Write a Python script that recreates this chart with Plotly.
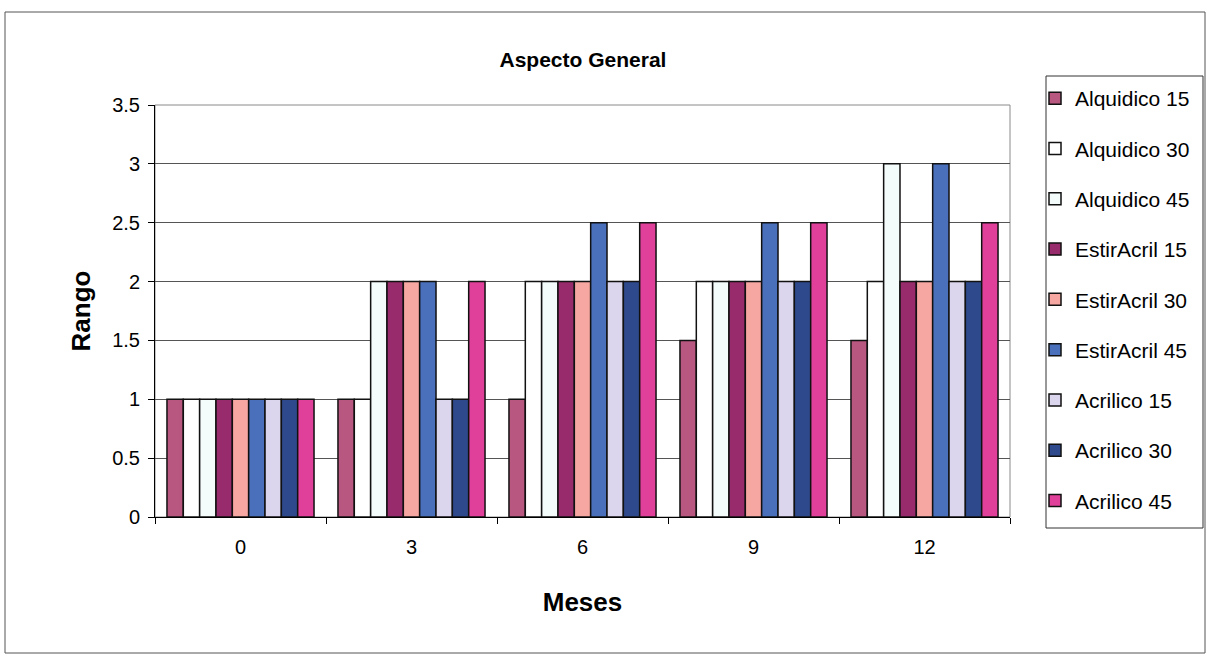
import plotly.graph_objects as go

# Months of exposure (category axis)
meses = ["0", "3", "6", "9", "12"]

# Rango values per paint system and thickness
alquidico_15 = [1, 1, 1, 1.5, 1.5]
alquidico_30 = [1, 1, 2, 2, 2]
alquidico_45 = [1, 2, 2, 2, 3]
estiracril_15 = [1, 2, 2, 2, 2]
estiracril_30 = [1, 2, 2, 2, 2]
estiracril_45 = [1, 2, 2.5, 2.5, 3]
acrilico_15 = [1, 1, 2, 2, 2]
acrilico_30 = [1, 1, 2, 2, 2]
acrilico_45 = [1, 2, 2.5, 2.5, 2.5]

series = [
    ("Alquidico 15", alquidico_15, "#B8577F"),
    ("Alquidico 30", alquidico_30, "#FFFFFF"),
    ("Alquidico 45", alquidico_45, "#F4FBFB"),
    ("EstirAcril 15", estiracril_15, "#982B6B"),
    ("EstirAcril 30", estiracril_30, "#F7A7A2"),
    ("EstirAcril 45", estiracril_45, "#4A70BC"),
    ("Acrilico 15", acrilico_15, "#DCD5EE"),
    ("Acrilico 30", acrilico_30, "#2F4A8C"),
    ("Acrilico 45", acrilico_45, "#E0409A"),
]

FONT = "Liberation Sans, Arial, sans-serif"

# pixel geometry of the plot area
L, R, T, B = 155, 1010, 105, 517
PW, PH = R - L, B - T


def px_x(x):
    return (x - L) / PW


def px_y(y):
    return (B - y) / PH


fig = go.Figure()
for name, vals, color in series:
    fig.add_trace(go.Bar(
        x=meses, y=vals, name=name, legendgroup=name,
        marker=dict(color=color, line=dict(color="#111111", width=1.5)),
    ))

fig.update_layout(
    width=1207, height=667,
    margin=dict(l=L, r=1207 - R, t=T, b=667 - B),
    paper_bgcolor="white", plot_bgcolor="white",
    barmode="group", bargap=0.14, bargroupgap=0,
    font=dict(family=FONT, size=20, color="black"),
    title=dict(text="<b>Aspecto General</b>", x=0.483, xanchor="center",
               y=1 - 60 / 667, yanchor="middle",
               font=dict(family=FONT, size=21, color="black")),
    showlegend=True,
    legend=dict(
        x=px_x(1035), xanchor="left", y=px_y(78), yanchor="top",
        bgcolor="rgba(0,0,0,0)", borderwidth=0,
        font=dict(family=FONT, size=21, color="black"),
        tracegroupgap=20, traceorder="grouped",
        itemwidth=30, maxheight=600,
    ),
)

fig.update_xaxes(
    type="category", tickson="boundaries",
    ticks="outside", ticklen=6, tickcolor="black",
    showline=True, linecolor="black", linewidth=1,
    showgrid=False,
    tickfont=dict(family=FONT, size=20), ticklabelstandoff=12,
    title=dict(text="<b>Meses</b>", font=dict(family=FONT, size=26), standoff=35),
)
fig.update_yaxes(
    range=[0, 3.5], dtick=0.5,
    ticks="outside", ticklen=6, tickcolor="black",
    showline=True, linecolor="black", linewidth=1,
    showgrid=True, gridcolor="#555555", gridwidth=1,
    zeroline=False,
    tickfont=dict(family=FONT, size=20), ticklabelstandoff=4,
    title=dict(text="<b>Rango</b>", font=dict(family=FONT, size=26), standoff=14),
)

# Plot-area frame (top/right edges)
fig.add_shape(type="rect", xref="paper", yref="paper", x0=0, x1=1, y0=0, y1=1,
              line=dict(color="#8a8a8a", width=1), layer="below")
# Legend frame
fig.add_shape(type="rect", xref="paper", yref="paper",
              x0=px_x(1046), x1=px_x(1203), y0=px_y(528), y1=px_y(76),
              line=dict(color="#333333", width=1), fillcolor="rgba(0,0,0,0)",
              layer="below")
# Outer chart border
fig.add_shape(type="rect", xref="paper", yref="paper",
              x0=px_x(5), x1=px_x(1205), y0=px_y(653), y1=px_y(12),
              line=dict(color="#555555", width=1), layer="below")

fig.write_html("out.html")
